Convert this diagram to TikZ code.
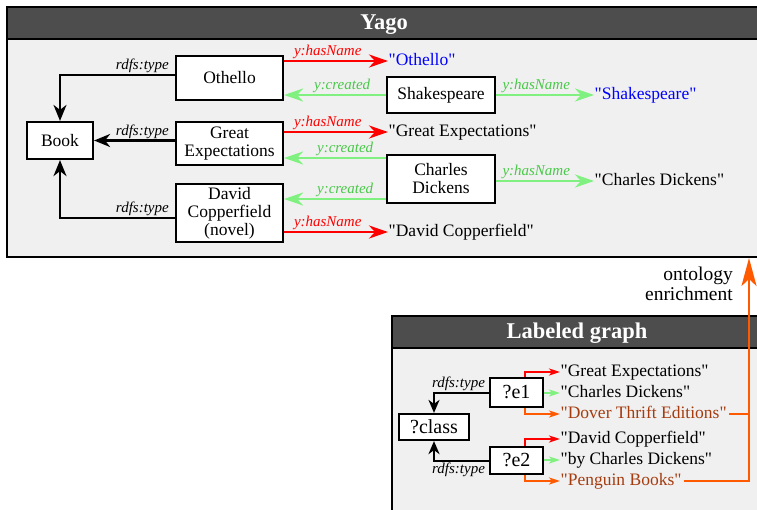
\documentclass[tikz,border=0pt]{standalone}
\usepackage{fontspec}
\setmainfont{Liberation Serif}
\usetikzlibrary{arrows.meta}

\definecolor{hdrgray}{RGB}{77,77,77}
\definecolor{panelbg}{RGB}{240,240,240}
\definecolor{namered}{RGB}{255,0,0}
\definecolor{creatline}{RGB}{128,240,128}
\definecolor{creattext}{RGB}{72,200,72}
\definecolor{litblue}{RGB}{0,0,255}
\definecolor{enrorange}{RGB}{255,90,0}
\definecolor{pubbrown}{RGB}{165,60,15}

% literal value in straight double quotes
\newcommand{\qlit}[1]{\textquotedbl#1\textquotedbl}

\begin{document}
\begin{tikzpicture}[x=1pt,y=-1pt,
  ent/.style={draw, fill=white, line width=2.2pt, inner sep=0pt, align=center,
    font=\fontsize{17.5}{18}\selectfont},
  var/.style={draw, fill=white, line width=2.2pt, inner sep=0pt,
    font=\fontsize{20}{20}\selectfont},
  val/.style={anchor=west, inner sep=0.5pt, text height=12pt, text depth=3pt,
    font=\fontsize{17.5}{18}\selectfont},
  rellbl/.style={font=\itshape\fontsize{15}{15}\selectfont, inner sep=1pt},
  paneltitle/.style={text=white, font=\bfseries\fontsize{22.5}{24}\selectfont, inner sep=0pt},
  typeedge/.style={draw=black, line width=2.3pt, -{Stealth[length=16pt,width=13pt,inset=5pt]}},
  nameedge/.style={draw=namered, line width=2.7pt, -{Stealth[length=19pt,width=13pt,inset=6pt]}},
  creatededge/.style={draw=creatline, line width=2.7pt, -{Stealth[length=19pt,width=13pt,inset=6pt]}},
  smalltype/.style={draw=black, line width=2pt, -{Stealth[length=13pt,width=11pt,inset=4pt]}},
  smallname/.style={draw=namered, line width=2pt, -{Stealth[length=11pt,width=7pt,inset=3pt]}},
  smallcreated/.style={draw=creatline, line width=2pt, -{Stealth[length=11pt,width=7pt,inset=3pt]}},
  smallpub/.style={draw=enrorange, line width=2pt, -{Stealth[length=11pt,width=7pt,inset=3pt]}},
  enrline/.style={draw=enrorange, line width=2.6pt},
]
\useasboundingbox (0,0) rectangle (757,509);
\begin{scope}
\clip (0,0) rectangle (757,509);

% ---------- Yago panel ----------
\fill[panelbg] (7,7) rectangle (761,257);
\fill[hdrgray] (7,7) rectangle (761,39);
\draw[line width=2.4pt] (7,7) rectangle (761,257);
\draw[line width=2.4pt] (7,39) -- (761,39);
\node[paneltitle] (yagotitle) at (384,24.5) {Yago};

\node[ent, minimum width=107pt, minimum height=44pt] (oth) at (229.5,78) {Othello};
\node[ent, minimum width=66pt, minimum height=37pt] (book) at (60,140.5) {Book};
\node[ent, minimum width=107pt, minimum height=43pt] (ge) at (229.5,143.5) {Great\\Expectations};
\node[ent, minimum width=107pt, minimum height=58pt] (dc) at (229.5,213) {David\\Copperfield\\(novel)};
\node[ent, minimum width=108pt, minimum height=36pt] (shk) at (441,95) {Shakespeare};
\node[ent, minimum width=108pt, minimum height=48pt] (cd) at (441,179) {Charles\\Dickens};

\node[val, text=litblue] (tOth) at (388,61) {\qlit{Othello}};
\node[val] (tGE) at (388,132) {\qlit{Great Expectations}};
\node[val] (tDC) at (388,232) {\qlit{David Copperfield}};
\node[val, text=litblue] (tShk) at (594,95) {\qlit{Shakespeare}};
\node[val] (tCD) at (594,181) {\qlit{Charles Dickens}};

% rdfs:type edges
\draw[typeedge] ([yshift=3pt]oth.west) -| (book.north)
  node[rellbl, pos=0, anchor=south east, xshift=-4pt] {rdfs:type};
\draw[typeedge] (ge.west |- book.east) -- (book.east)
  node[rellbl, pos=0, anchor=south east, xshift=-4pt] {rdfs:type};
\draw[typeedge] ([yshift=-5pt]dc.west) -| (book.south)
  node[rellbl, pos=0, anchor=south east, xshift=-4pt] {rdfs:type};

% y:hasName edges of the books
\draw[nameedge] (oth.east |- tOth.west) -- (tOth.west)
  node[rellbl, text=namered, pos=0.42, above] {y:hasName};
\draw[nameedge] (ge.east |- tGE.west) -- (tGE.west)
  node[rellbl, text=namered, pos=0.42, above] {y:hasName};
\draw[nameedge] (dc.east |- tDC.west) -- (tDC.west)
  node[rellbl, text=namered, pos=0.42, above] {y:hasName};

% y:created edges
\coordinate (cdUp) at ([yshift=21pt]cd.west);
\coordinate (cdDown) at ([yshift=-20pt]cd.west);
\draw[creatededge] (shk.west) -- (oth.east |- shk.west)
  node[rellbl, text=creattext, pos=0.43, above] {y:created};
\draw[creatededge] (cdUp) -- (ge.east |- cdUp)
  node[rellbl, text=creattext, pos=0.4, above] {y:created};
\draw[creatededge] (cdDown) -- (dc.east |- cdDown)
  node[rellbl, text=creattext, pos=0.4, above] {y:created};

% y:hasName edges of the authors
\draw[creatededge] (shk.east) -- (tShk.west)
  node[rellbl, text=creattext, pos=0.41, above] {y:hasName};
\draw[creatededge] (cd.east |- tCD.west) -- (tCD.west)
  node[rellbl, text=creattext, pos=0.41, above] {y:hasName};

% ---------- Labeled graph panel ----------
\fill[panelbg] (392,316) rectangle (762,520);
\fill[hdrgray] (392,316) rectangle (762,348);
\draw[line width=2.4pt] (392,316) rectangle (762,520);
\draw[line width=2.4pt] (392,348) -- (762,348);
\node[paneltitle] (lgtitle) at (577,333) {Labeled graph};

\node[var, minimum width=53pt, minimum height=29pt] (e1) at (516.5,392.5) {?e1};
\node[var, minimum width=70pt, minimum height=26pt] (cls) at (434,427) {?class};
\node[var, minimum width=53pt, minimum height=27pt] (e2) at (516.5,460.5) {?e2};

\node[val] (g1) at (560,372) {\qlit{Great Expectations}};
\node[val] (g2) at (560,393) {\qlit{Charles Dickens}};
\node[val, text=pubbrown] (g3) at (560,414) {\qlit{Dover Thrift Editions}};
\node[val] (g4) at (560,439) {\qlit{David Copperfield}};
\node[val] (g5) at (560,460) {\qlit{by Charles Dickens}};
\node[val, text=pubbrown] (g6) at (560,481) {\qlit{Penguin Books}};

\draw[smalltype] (e1.west) -| (cls.north)
  node[rellbl, pos=0, anchor=south east, xshift=-2pt] {rdfs:type};
\draw[smalltype] (e2.west) -| (cls.south)
  node[rellbl, pos=0, anchor=north east, xshift=-2pt] {rdfs:type};

\draw[smallname] ([xshift=8.5pt]e1.north) |- (g1.west);
\draw[smallcreated] (e1.east |- g2.west) -- (g2.west);
\draw[smallpub] ([xshift=8.5pt]e1.south) |- (g3.west);
\draw[smallname] ([xshift=8.5pt]e2.north) |- (g4.west);
\draw[smallcreated] (e2.east |- g5.west) -- (g5.west);
\draw[smallpub] ([xshift=8.5pt]e2.south) |- (g6.west);

% ontology enrichment
\coordinate (enrTop) at (749,258);
\draw[enrline, shorten <=1.5pt] (g3.east) -- (g3.east -| enrTop);
\draw[enrline, shorten <=1.5pt, -{Stealth[length=28pt,width=15pt,inset=7pt]}]
  (g6.east) -| (enrTop);
\node[font=\fontsize{19.5}{20}\selectfont, align=right, anchor=north east, inner sep=0pt]
  (enr) at (733,266.5) {ontology\\enrichment};
\end{scope}
\end{tikzpicture}
\end{document}
